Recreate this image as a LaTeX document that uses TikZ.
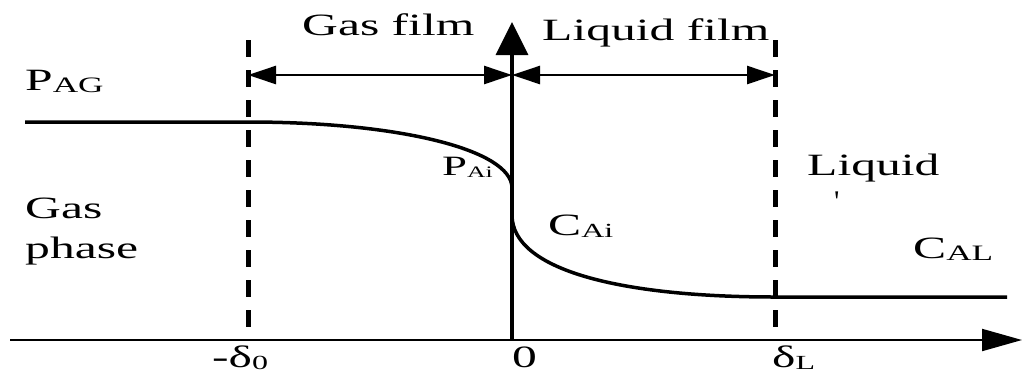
\documentclass[tikz,border=0pt]{standalone}
\usepackage{fontspec}
\setmainfont{Liberation Serif}
\usetikzlibrary{arrows.meta}
\newcommand\hs[1]{\scalebox{1.6}[1]{#1}}
\newcommand\sbx[2][22]{\raisebox{-2pt}{\fontsize{#1}{#1}\selectfont #2}}
\begin{document}
\begin{tikzpicture}[x=1pt,y=-1pt,
  lbl/.style={inner sep=0pt, anchor=base west, font=\fontsize{31}{36}\selectfont},
  curve/.style={line width=3.5pt},
  dashline/.style={line width=5pt, dash pattern=on 17pt off 13pt},
  span/.style={line width=2.5pt, {Triangle[length=28pt,width=18pt]}-{Triangle[length=28pt,width=18pt]}},
  xaxis/.style={line width=2pt, -{Triangle[length=40pt,width=22pt]}},
  yaxis/.style={line width=3.5pt, -{Triangle[length=33pt,width=32pt]}}]
\useasboundingbox (0,0) rectangle (1022,373);
% coordinates
\coordinate (xs) at (10,340);
\coordinate (xe) at (1022,340);
\coordinate (o) at (512,340);
\coordinate (yt) at (512,22);
\coordinate (d0b) at (248,340);
\coordinate (d0t) at (248,40);
\coordinate (dLb) at (775,340);
\coordinate (dLt) at (775,40);
\coordinate (a1) at (248,75);
\coordinate (a2) at (512,75);
\coordinate (a3) at (775,75);
\coordinate (g0) at (25,122);
\coordinate (g1) at (248,122);
\coordinate (gi) at (512,188);
\coordinate (li) at (512,215);
\coordinate (l1) at (775,297);
\coordinate (l2) at (1007,297);
% axes
\draw[xaxis] (xs) -- (xe);
\draw[yaxis] (o) -- (yt);
% film boundaries
\draw[dashline] (d0t) -- (d0b);
\draw[dashline] (dLt) -- (dLb);
% film spans
\draw[span] (a1) -- (a2);
\draw[span] (a2) -- (a3);
% profiles
\draw[curve] (g0) -- (g1) .. controls (400,122) and (512,150) .. (gi);
\draw[curve] (li) .. controls (512,270) and (620,297) .. (l1) -- (l2);
% labels
\node[lbl] (gasfilm) at (302,35) {\hs{Gas film}};
\node[lbl] (liqfilm) at (542,40) {\hs{Liquid film}};
\node[lbl] (pag) at (25,90) {\hs{P\sbx{AG}}};
\node[lbl] (gas) at (25,218) {\hs{Gas}};
\node[lbl] (phase) at (25,258) {\hs{phase}};
\node[lbl, font=\fontsize{28}{32}\selectfont] (pai) at (442,175) {\hs{P\sbx[16]{Ai}}};
\node[lbl] (cai) at (548,235) {\hs{C\sbx[20]{Ai}}};
\node[lbl] (liq) at (807,175) {\hs{Liquid}};
\node[lbl, font=\fontsize{30}{34}\selectfont] (tick) at (834,211) {\textquotesingle};
\node[lbl] (cal) at (913,258) {\hs{C\sbx{AL}}};
\node[lbl] (dm0) at (212,367) {\hs{-δ\sbx[20]{0}}};
\node[lbl] (zero) at (512,367) {\hs{0}};
\node[lbl] (dl) at (772,367) {\hs{δ\sbx[20]{L}}};
\end{tikzpicture}
\end{document}
